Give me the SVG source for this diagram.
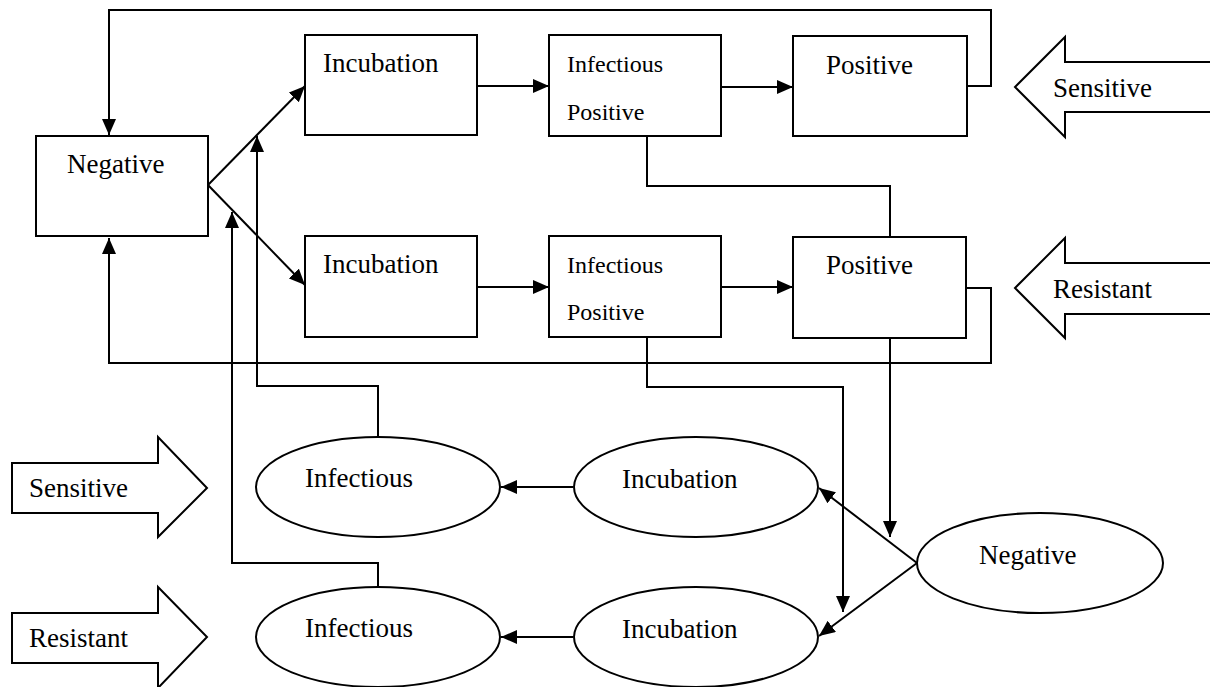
<svg xmlns="http://www.w3.org/2000/svg" width="1210" height="687" viewBox="0 0 1210 687">
<style>
.n{fill:#fff;stroke:#000;stroke-width:2}
.c{fill:none;stroke:#000;stroke-width:2}
.t{font-family:"Liberation Serif","Times New Roman",serif;font-size:27px;fill:#000}
.s{font-family:"Liberation Serif","Times New Roman",serif;font-size:24px;fill:#000}
</style>
<defs>
<marker id="ah" markerUnits="userSpaceOnUse" markerWidth="17" markerHeight="15" refX="16" refY="7" orient="auto">
<path d="M0,0 L16,7 L0,14 z" fill="#000"/>
</marker>
</defs>
<rect width="1210" height="687" fill="#fff"/>
<g id="connectors">
<polyline class="c" points="967,86 991,86 991,10 109,10 109,135" marker-end="url(#ah)"/>
<line class="c" x1="208" y1="185" x2="305" y2="86" marker-end="url(#ah)"/>
<line class="c" x1="208" y1="185" x2="305" y2="285" marker-end="url(#ah)"/>
<line class="c" x1="477" y1="86" x2="549" y2="86" marker-end="url(#ah)"/>
<line class="c" x1="721" y1="87" x2="793" y2="87" marker-end="url(#ah)"/>
<line class="c" x1="477" y1="287" x2="549" y2="287" marker-end="url(#ah)"/>
<line class="c" x1="721" y1="287" x2="793" y2="287" marker-end="url(#ah)"/>
<polyline class="c" points="647,136 647,186 890,186 890,237"/>
<polyline class="c" points="966,288 991,288 991,363 109,363 109,238" marker-end="url(#ah)"/>
<polyline class="c" points="647,337 647,387 843,387 843,612" marker-end="url(#ah)"/>
<line class="c" x1="890" y1="338" x2="890" y2="537" marker-end="url(#ah)"/>
<polyline class="c" points="378,437 378,386 257,386 257,136" marker-end="url(#ah)"/>
<polyline class="c" points="378,587 378,563 232,563 232,212" marker-end="url(#ah)"/>
<line class="c" x1="573" y1="487" x2="501" y2="487" marker-end="url(#ah)"/>
<line class="c" x1="573" y1="637" x2="501" y2="637" marker-end="url(#ah)"/>
<line class="c" x1="917" y1="563" x2="819" y2="488" marker-end="url(#ah)"/>
<line class="c" x1="917" y1="563" x2="819" y2="636" marker-end="url(#ah)"/>
</g>
<g id="negative-box"><rect class="n" x="36" y="136" width="172" height="100"/><text class="t" x="67" y="173">Negative</text></g>
<g id="incubation-1"><rect class="n" x="305" y="35" width="172" height="100"/><text class="t" x="323" y="72">Incubation</text></g>
<g id="infectious-positive-1"><rect class="n" x="549" y="35" width="172" height="101"/><text class="s" x="567" y="72">Infectious</text><text class="s" x="567" y="120">Positive</text></g>
<g id="positive-1"><rect class="n" x="793" y="36" width="174" height="100"/><text class="t" x="826" y="74">Positive</text></g>
<g id="incubation-2"><rect class="n" x="305" y="236" width="172" height="101"/><text class="t" x="323" y="273">Incubation</text></g>
<g id="infectious-positive-2"><rect class="n" x="549" y="236" width="172" height="101"/><text class="s" x="567" y="273">Infectious</text><text class="s" x="567" y="320">Positive</text></g>
<g id="positive-2"><rect class="n" x="793" y="237" width="173" height="101"/><text class="t" x="826" y="274">Positive</text></g>
<g id="sensitive-right"><polygon class="n" points="1211,62 1065,62 1065,37 1015,87 1065,137 1065,112 1211,112"/><text class="t" x="1053" y="97">Sensitive</text></g>
<g id="resistant-right"><polygon class="n" points="1211,263 1065,263 1065,238 1015,288 1065,338 1065,314 1211,314"/><text class="t" x="1053" y="298">Resistant</text></g>
<g id="sensitive-left"><polygon class="n" points="12,463 158,463 158,437 207,488 158,537 158,513 12,513"/><text class="t" x="29" y="497">Sensitive</text></g>
<g id="resistant-left"><polygon class="n" points="12,613 158,613 158,587 207,637 158,688 158,663 12,663"/><text class="t" x="29" y="647">Resistant</text></g>
<g id="infectious-1"><ellipse class="n" cx="378" cy="487" rx="122" ry="50"/><text class="t" x="305" y="487">Infectious</text></g>
<g id="incubation-e1"><ellipse class="n" cx="696" cy="487" rx="122" ry="50"/><text class="t" x="622" y="488">Incubation</text></g>
<g id="infectious-2"><ellipse class="n" cx="378" cy="637" rx="122" ry="50"/><text class="t" x="305" y="637">Infectious</text></g>
<g id="incubation-e2"><ellipse class="n" cx="696" cy="637" rx="122" ry="50"/><text class="t" x="622" y="638">Incubation</text></g>
<g id="negative-ellipse"><ellipse class="n" cx="1040" cy="563" rx="123" ry="50"/><text class="t" x="979" y="564">Negative</text></g>
</svg>
